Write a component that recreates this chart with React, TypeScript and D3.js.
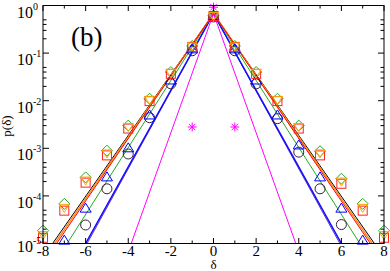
import * as d3 from 'd3'

// delta values where symbols are sampled
const deltas = [-8, -7, -6, -5, -4, -3, -2, -1, 0, 1, 2, 3, 4, 5, 6, 7, 8]

// symbol series (null = below the plotted range)
const circles = [null, null, 2.45e-5, 1.41e-4, 7.6e-4, 4.4e-3, 0.0226, 0.112, 0.575, 0.112, 0.0226, 4.2e-3, 8.3e-4, 1.41e-4, 2.5e-5, null, null]
const upTriangles = [null, 1.15e-5, 5.4e-5, 2.45e-4, 1.0e-3, 4.9e-3, 0.0266, 0.12, 0.6, 0.12, 0.0266, 4.9e-3, 1.15e-3, 2.45e-4, 5.4e-5, 1.15e-5, null]
const diamonds = [1.86e-5, 6.8e-5, 2.45e-4, 8.9e-4, 3.0e-3, 0.011, 0.04, 0.141, 0.62, 0.141, 0.04, 0.011, 3.0e-3, 8.7e-4, 2.3e-4, 6.8e-5, 1.86e-5]
const downTriangles = [1.5e-5, 5.6e-5, 2.1e-4, 7.8e-4, 2.8e-3, 0.0104, 0.038, 0.138, 0.6, 0.138, 0.038, 0.0104, 2.8e-3, 7.8e-4, 2.0e-4, 5.6e-5, 1.5e-5]
const squares = [1.32e-5, 4.9e-5, 1.9e-4, 7.1e-4, 2.6e-3, 9.8e-3, 0.0367, 0.135, 0.6, 0.135, 0.0367, 9.8e-3, 2.6e-3, 7.1e-4, 1.8e-4, 4.9e-5, 1.32e-5]
const asteriskDeltas = [-1, 0, 1]
const asterisks = [2.8e-3, 0.92, 2.8e-3]

// fitted lines, read at their ends and the peak
const lineDeltas = [-8, 0, 8]
const blackLine = [5.15e-6, 0.676, 5.15e-6]
const orangeLine = [4.4e-6, 0.676, 4.4e-6]
const redLine = [3.8e-6, 0.676, 3.8e-6]
const greenLine = [1.6e-6, 0.676, 1.6e-6]
const blueLine = [2.45e-7, 0.676, 2.45e-7]
const purpleLine = [2.06e-7, 0.676, 2.06e-7]
const magentaDeltas = [-4, 0, 4]
const magentaLine = [6.7e-6, 0.676, 6.7e-6]

const xTicks = [-8, -6, -4, -2, 0, 2, 4, 6, 8]
const xMinor = [-7, -5, -3, -1, 1, 3, 5, 7]
const yExponents = [0, -1, -2, -3, -4, -5]

const W = 390
const H = 271
const left = 43
const right = 384
const top = 5.5
const bottom = 243.5
const serif = '"Liberation Serif", "DejaVu Serif", serif'

export default function App() {
  const x = d3.scaleLinear().domain([-8, 8]).range([left, right])
  const y = d3.scaleLog().domain([1e-5, 1]).range([bottom, top])

  const line = d3
    .line<[number, number]>()
    .x((d) => x(d[0]))
    .y((d) => y(d[1]))

  const pts = (vals: (number | null)[], xs = deltas) =>
    xs.map((d, i) => [d, vals[i]] as [number, number | null]).filter((p) => p[1] != null) as [number, number][]

  const yMinor: number[] = []
  for (let e = -5; e < 0; e++) for (const m of [2, 3, 4, 5]) yMinor.push(m * Math.pow(10, e))

  const lines = [
    { v: greenLine, xs: lineDeltas, c: '#22aa22', w: 1 },
    { v: purpleLine, xs: lineDeltas, c: '#6a2bc0', w: 1 },
    { v: blueLine, xs: lineDeltas, c: '#1010ff', w: 1.5 },
    { v: blackLine, xs: lineDeltas, c: '#000000', w: 1 },
    { v: orangeLine, xs: lineDeltas, c: '#ff8c1a', w: 1.5 },
    { v: redLine, xs: lineDeltas, c: '#ff0000', w: 1 },
    { v: magentaLine, xs: magentaDeltas, c: '#ff00ff', w: 1 },
  ]

  return (
    <svg width={W} height={H} style={{ display: 'block', background: '#fff' }}>
      <style>{`body{margin:0}`}</style>
      <defs>
        <clipPath id="plot">
          <rect x={left} y={top} width={right - left} height={bottom - top} />
        </clipPath>
      </defs>

      <g clipPath="url(#plot)" fill="none">
        {lines.map((l, i) => (
          <path key={i} d={line(pts(l.v, l.xs)) ?? ''} stroke={l.c} strokeWidth={l.w} />
        ))}
      </g>

      <g fill="none" strokeWidth={1}>
        {pts(circles).map(([d, v], i) => (
          <circle key={'c' + i} cx={x(d)} cy={y(v)} r={5} stroke="#3a1f38" />
        ))}
        {pts(upTriangles).map(([d, v], i) => {
          const cx = x(d), cy = y(v)
          return <path key={'t' + i} d={`M${cx},${cy - 5.5}L${cx + 5.5},${cy + 3.5}L${cx - 5.5},${cy + 3.5}Z`} stroke="#0000ff" />
        })}
        {pts(diamonds).map(([d, v], i) => {
          const cx = x(d), cy = y(v)
          return <path key={'d' + i} d={`M${cx},${cy - 5.5}L${cx + 5.5},${cy}L${cx},${cy + 5.5}L${cx - 5.5},${cy}Z`} stroke="#22aa22" />
        })}
        {pts(squares).map(([d, v], i) => (
          <rect key={'s' + i} x={x(d) - 4.5} y={y(v) - 4.5} width={9} height={9} stroke="#ff2020" />
        ))}
        {pts(downTriangles).map(([d, v], i) => {
          const cx = x(d), cy = y(v)
          return <path key={'v' + i} d={`M${cx - 5},${cy - 3.5}L${cx + 5},${cy - 3.5}L${cx},${cy + 4.5}Z`} stroke="#ffa500" />
        })}
        {pts(asterisks, asteriskDeltas).map(([d, v], i) => {
          const cx = x(d), cy = y(v), r = 4.5, q = r * Math.SQRT1_2
          return (
            <path
              key={'a' + i}
              d={`M${cx - r},${cy}H${cx + r}M${cx},${cy - r}V${cy + r}M${cx - q},${cy - q}L${cx + q},${cy + q}M${cx - q},${cy + q}L${cx + q},${cy - q}`}
              stroke="#ff00ff"
            />
          )
        })}
      </g>

      {/* frame and ticks */}
      <rect x={left} y={top} width={right - left} height={bottom - top} fill="none" stroke="#000" strokeWidth={1} />
      <g stroke="#000" strokeWidth={1}>
        {xTicks.map((t) => (
          <g key={'xt' + t}>
            <line x1={x(t)} x2={x(t)} y1={bottom} y2={bottom - 5.5} />
            <line x1={x(t)} x2={x(t)} y1={top} y2={top + 5.5} />
          </g>
        ))}
        {xMinor.map((t) => (
          <g key={'xm' + t}>
            <line x1={x(t)} x2={x(t)} y1={bottom} y2={bottom - 3} />
            <line x1={x(t)} x2={x(t)} y1={top} y2={top + 3} />
          </g>
        ))}
        {yExponents.map((e) => (
          <g key={'yt' + e}>
            <line x1={left} x2={left + 6} y1={y(Math.pow(10, e))} y2={y(Math.pow(10, e))} />
            <line x1={right} x2={right - 6} y1={y(Math.pow(10, e))} y2={y(Math.pow(10, e))} />
          </g>
        ))}
        {yMinor.map((m, i) => (
          <g key={'ym' + i}>
            <line x1={left} x2={left + 3.5} y1={y(m)} y2={y(m)} />
            <line x1={right} x2={right - 3.5} y1={y(m)} y2={y(m)} />
          </g>
        ))}
      </g>

      <g fontFamily={serif} fill="#000">
        {xTicks.map((t) => (
          <text key={'xl' + t} x={x(t)} y={255.5} fontSize={15} textAnchor="middle">
            {t < 0 ? '-' + Math.abs(t) : t}
          </text>
        ))}
        {yExponents.map((e) => (
          <g key={'yl' + e}>
            <text x={33} y={y(Math.pow(10, e)) + (e === -5 ? 8 : 12)} fontSize={16} textAnchor="end">10</text>
            <text x={33} y={y(Math.pow(10, e)) + (e === -5 ? 0 : 4)} fontSize={10}>{e === 0 ? '0' : '-' + Math.abs(e)}</text>
          </g>
        ))}
        <text x={213.5} y={269} fontSize={13} textAnchor="middle">δ</text>
        <text transform="translate(11,126) rotate(-90)" fontSize={13} textAnchor="middle">p(δ)</text>
        <text x={71} y={46} fontSize={27}>(b)</text>
      </g>
    </svg>
  )
}
